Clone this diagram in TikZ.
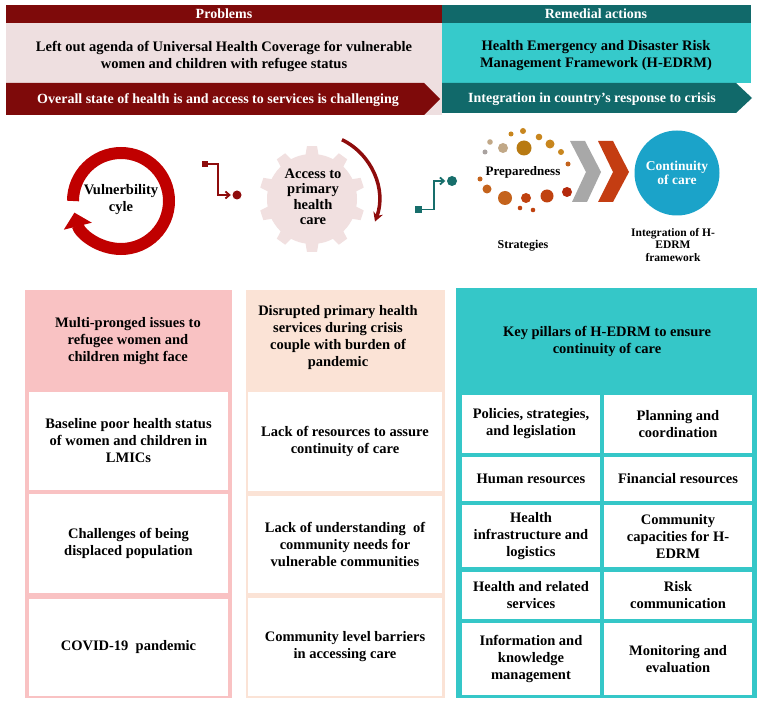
\documentclass[tikz,border=0pt]{standalone}
\usepackage{fontspec}
\setmainfont{Liberation Serif}
\usetikzlibrary{arrows.meta,calc}
\definecolor{hdred}{HTML}{7E0A0A}
\definecolor{hdteal}{HTML}{11696A}
\definecolor{pinkbg}{HTML}{EEDFE0}
\definecolor{turq}{HTML}{36CACB}
\definecolor{ringred}{HTML}{C00000}
\definecolor{gearc}{HTML}{F1E0E0}
\definecolor{arcred}{HTML}{8E0C0C}
\definecolor{tealc}{HTML}{176E6B}
\definecolor{colA}{HTML}{F9C2C3}
\definecolor{colB}{HTML}{FBE3D6}
\definecolor{colC}{HTML}{35C7C8}
\definecolor{contc}{HTML}{1BA3C9}
\definecolor{chevg}{HTML}{A8A8A8}
\definecolor{chevr}{HTML}{C43D12}
\definecolor{dgrey}{HTML}{A9A2A0}
\definecolor{dtan}{HTML}{C1A887}
\definecolor{dgold}{HTML}{B87A12}
\definecolor{dorange}{HTML}{C8861E}
\definecolor{dburnt}{HTML}{C4631C}
\definecolor{dred}{HTML}{C0420F}
\definecolor{ddeep}{HTML}{B52A0C}
\newcommand{\wbx}[6]{\node[wbox, minimum width={(#4)-(#2)}, minimum height={(#5)-(#3)}] (#1) at ({((#2)+(#4))/2},{((#3)+(#5))/2}) {#6};}
\begin{document}
\begin{tikzpicture}[x=1pt,y=-1pt,
  every node/.style={inner sep=0pt},
  tx/.style={align=center, font=\bfseries\fontsize{14.5}{17}\selectfont},
  hd/.style={tx, text=white, font=\bfseries\fontsize{14}{16}\selectfont},
  wbox/.style={tx, fill=white},
  sm/.style={align=center, font=\bfseries\fontsize{11.5}{12.2}\selectfont}]
\useasboundingbox (0,0) rectangle (760,708);
\fill[white] (0,0) rectangle (760,708);
% ---------- top band ----------
\fill[pinkbg] (6,23) rectangle (442,115);
\fill[turq] (442,23) rectangle (751,83);
\fill[hdred] (6,5) rectangle (442,23);
\fill[hdteal] (442,5) rectangle (751,23);
\node[hd] (prob) at (224,14) {Problems};
\node[hd] (rem) at (596,14) {Remedial actions};
\node[tx] (agenda) at (224,56) {Left out agenda of Universal Health Coverage for vulnerable\\women and children with refugee status};
\node[tx] (hedrm) at (596,56) {Health Emergency and Disaster Risk\\Management Framework (H-EDRM)};
\fill[hdred] (6,83) -- (424,83) -- (440,99) -- (424,115) -- (6,115) -- cycle;
\fill[hdteal] (442,83) -- (736,83) -- (752,98) -- (736,113) -- (442,113) -- cycle;
\node[hd] (overall) at (218,100) {Overall state of health is and access to services is challenging};
\node[hd] (integ) at (592,99) {Integration in country’s response to crisis};
% ---------- vulnerability cycle ----------
\draw[ringred, line width=12pt, -{Triangle[length=14pt,width=28pt]}] (121,201) ++(180:48) arc[start angle=180, end angle=526, radius=48];
\node[tx] (vc) at (121,200) {Vulnerbility\\cyle};
% ---------- connector 1 ----------
\node[fill=arcred, minimum size=6.5pt] (sq1) at (205,164) {};
\node[circle, fill=arcred, minimum size=9pt] (dt1) at (237,195) {};
\draw[arcred, line width=1.8pt, -{Straight Barb[length=4pt,width=7pt]}] (sq1.east) -| ($(dt1.west)+(-14,0)$) -- ($(dt1.west)+(-1.5,0)$);
% ---------- gear ----------
\fill[gearc] (312,199) circle[radius=45];
\foreach \a in {18,54,...,342}
  \fill[gearc] ($(312,199)+(\a-9:43)$) -- ($(312,199)+(\a-5.5:53)$) -- ($(312,199)+(\a+5.5:53)$) -- ($(312,199)+(\a+9:43)$) -- cycle;
\node[tx, font=\bfseries\fontsize{14.5}{15.5}\selectfont] (apc) at (313,197) {Access to\\primary\\health\\care};
\draw[arcred, line width=3.5pt, -{Stealth[length=9pt,width=10pt]}] (313,199) ++(-64:66) arc[start angle=-64, end angle=20, radius=66];
% ---------- connector 2 ----------
\node[fill=tealc, minimum size=7pt] (sq2) at (418.5,209.5) {};
\node[circle, fill=tealc, minimum size=10pt] (dt2) at (452,181) {};
\draw[tealc, line width=1.8pt, -{Straight Barb[length=4pt,width=7pt]}] (sq2.east) -| ($(dt2.west)+(-13,0)$) -- ($(dt2.west)+(-1.5,0)$);
% ---------- preparedness dots ----------
\foreach \x/\y/\r/\c in {485/152/2.5/dgrey, 490/142/2.8/dtan, 503/148/5/dtan, 511/134/2.5/dorange,
  523/131/3/dorange, 524/148/7.5/dgold, 539/137/3.3/dorange, 550/144/4.5/dorange, 561/152/3/dorange,
  568/164/2.5/dburnt, 480/179/2.5/dburnt, 487/189/4.5/dburnt, 505/198/7/dburnt, 526/198/5/dred,
  520/208/2.3/dred, 533/210/2.3/dred, 547/196/6.5/dred, 567/192/5/ddeep}
  \fill[\c] (\x,\y) circle[radius=\r];
\node[font=\bfseries\fontsize{13}{15}\selectfont] (prep) at (523,172) {Preparedness};
\fill[chevg] (570,141) -- (585,141) -- (601,172) -- (587,202) -- (572,202) -- (586,172) -- cycle;
\fill[chevr] (598,141) -- (613,141) -- (629,172) -- (613,202) -- (598,202) -- (613,172) -- cycle;
\node[circle, fill=contc, minimum size=85pt, text=white, align=center, font=\bfseries\fontsize{13.5}{14.5}\selectfont] (cont) at (677,173) {Continuity\\of care};
\node[font=\bfseries\fontsize{12}{14}\selectfont] (strat) at (523,246) {Strategies};
\node[sm] (intg) at (673,245) {Integration of H-\\EDRM\\framework};
% ---------- column 1 ----------
\fill[colA] (25,290) rectangle (232,698);
\node[tx] (h1) at (128,341) {Multi-pronged issues to\\refugee women and\\children might face};
\wbx{a1}{29}{392}{228}{490}{Baseline poor health status\\of women and children in\\LMICs}
\wbx{a2}{29}{494}{228}{593}{Challenges of being\\displaced population}
\wbx{a3}{29}{599}{228}{696}{COVID-19\ \ pandemic}
% ---------- column 2 ----------
\fill[colB] (246,290) rectangle (445,698);
\node[tx] (h2) at (338,338) {Disrupted primary health\\services during crisis\\couple with burden of\\pandemic};
\wbx{b1}{248}{392}{442}{491}{Lack of resources to assure\\continuity of care}
\wbx{b2}{248}{496}{442}{593}{Lack of understanding\ \ of\\community needs for\\vulnerable communities}
\wbx{b3}{248}{598}{442}{696}{Community level barriers\\in accessing care}
% ---------- column 3 ----------
\fill[colC] (456,288) rectangle (757,698);
\node[tx] (h3) at (607,341) {Key pillars of H-EDRM to ensure\\continuity of care};
\wbx{c1}{462}{395}{600}{453}{Policies, strategies,\\and legislation}
\wbx{c2}{604}{395}{752}{453}{Planning and\\coordination}
\wbx{c3}{462}{457}{600}{501}{Human resources}
\wbx{c4}{604}{457}{752}{501}{Financial resources}
\wbx{c5}{462}{505}{600}{567}{Health\\infrastructure and\\logistics}
\wbx{c6}{604}{505}{752}{567}{Community\\capacities for H-\\EDRM}
\wbx{c7}{462}{572}{600}{619}{Health and related\\services}
\wbx{c8}{604}{572}{752}{619}{Risk\\communication}
\wbx{c9}{462}{623}{600}{695}{Information and\\knowledge\\management}
\wbx{c10}{604}{623}{752}{695}{Monitoring and\\evaluation}
\end{tikzpicture}
\end{document}
